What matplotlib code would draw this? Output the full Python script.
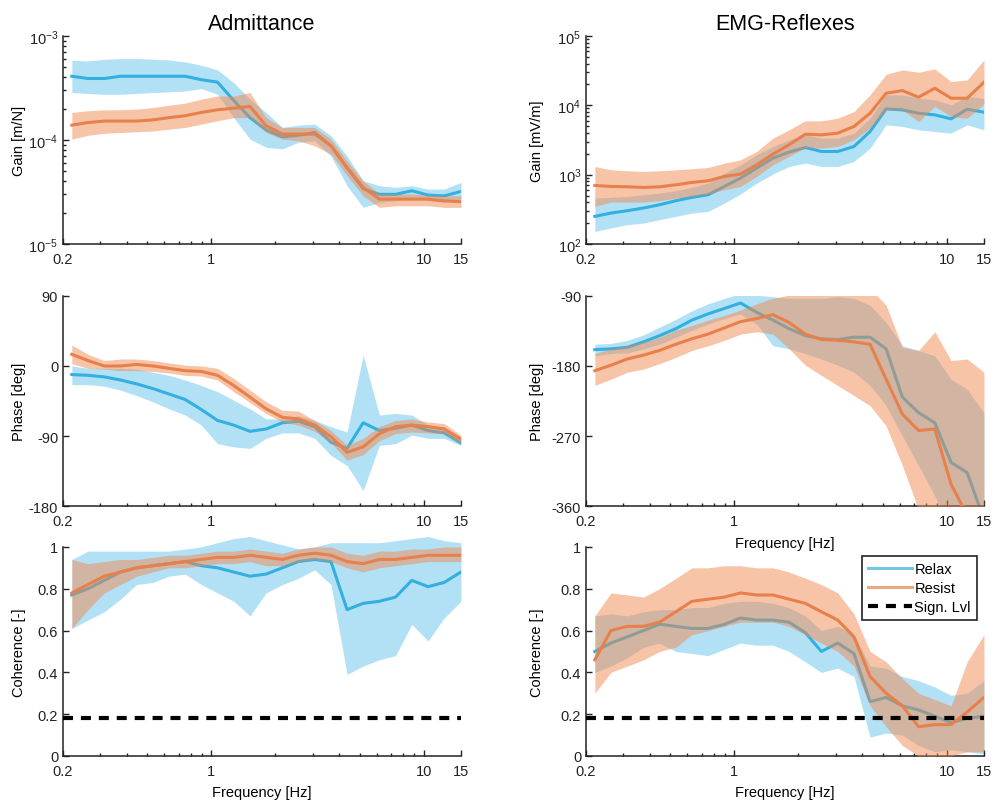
import matplotlib
matplotlib.use("Agg")
import matplotlib.pyplot as plt
from matplotlib.lines import Line2D
from matplotlib.ticker import FixedLocator, NullFormatter

plt.rcParams['font.family'] = ['Liberation Sans', 'DejaVu Sans']
plt.rcParams['axes.unicode_minus'] = False

# frequency points [Hz]
freq = [0.22, 0.262, 0.313, 0.373, 0.444, 0.53, 0.631, 0.752, 0.897, 1.069, 1.274, 1.52, 1.81,
        2.16, 2.57, 3.07, 3.66, 4.36, 5.19, 6.19, 7.38, 8.8, 10.5, 12.5, 15.0]

# admittance gain [m/N]
adm_gain_relax = [4.1e-4, 3.9e-4, 3.9e-4, 4.1e-4, 4.1e-4, 4.1e-4, 4.1e-4, 4.1e-4, 3.8e-4, 3.6e-4, 2.4e-4,
                  1.64e-4, 1.25e-4, 1.07e-4, 1.11e-4, 1.18e-4, 8.8e-5, 5.4e-5, 3.4e-5, 3.0e-5, 3.0e-5,
                  3.25e-5, 2.95e-5, 2.9e-5, 3.2e-5]
adm_gain_relax_lo = [2.86e-4, 2.8e-4, 2.75e-4, 2.75e-4, 2.8e-4, 2.86e-4, 2.9e-4, 2.96e-4, 3.12e-4, 2.75e-4,
                     1.64e-4, 1.02e-4, 8.5e-5, 8.2e-5, 9.5e-5, 9.8e-5, 7.0e-5, 3.63e-5, 2.25e-5, 2.51e-5,
                     2.61e-5, 2.81e-5, 2.61e-5, 2.51e-5, 2.7e-5]
adm_gain_relax_hi = [5.84e-4, 5.75e-4, 5.97e-4, 6.06e-4, 6.06e-4, 5.97e-4, 5.88e-4, 5.63e-4, 5.23e-4, 4.72e-4,
                     3.56e-4, 2.47e-4, 1.84e-4, 1.32e-4, 1.39e-4, 1.42e-4, 1.1e-4, 7.0e-5, 4.06e-5, 3.63e-5,
                     3.5e-5, 3.63e-5, 3.37e-5, 3.37e-5, 3.91e-5]
adm_gain_resist = [1.39e-4, 1.47e-4, 1.52e-4, 1.52e-4, 1.52e-4, 1.56e-4, 1.64e-4, 1.71e-4, 1.84e-4, 1.95e-4,
                   2.02e-4, 2.1e-4, 1.37e-4, 1.14e-4, 1.14e-4, 1.14e-4, 8.8e-5, 5.4e-5, 3.5e-5, 2.7e-5,
                   2.7e-5, 2.7e-5, 2.7e-5, 2.6e-5, 2.55e-5]
adm_gain_resist_lo = [1.02e-4, 1.11e-4, 1.16e-4, 1.18e-4, 1.2e-4, 1.22e-4, 1.27e-4, 1.32e-4, 1.42e-4, 1.53e-4,
                      1.64e-4, 1.64e-4, 1.18e-4, 1.02e-4, 9.8e-5, 8.8e-5, 7.3e-5, 4.53e-5, 2.91e-5, 2.25e-5,
                      2.33e-5, 2.33e-5, 2.33e-5, 2.25e-5, 2.25e-5]
adm_gain_resist_hi = [1.84e-4, 1.91e-4, 1.95e-4, 1.95e-4, 1.98e-4, 2.05e-4, 2.16e-4, 2.26e-4, 2.47e-4, 2.65e-4,
                      2.65e-4, 2.86e-4, 1.64e-4, 1.32e-4, 1.32e-4, 1.32e-4, 1.02e-4, 6.3e-5, 4.06e-5, 3.02e-5,
                      3.02e-5, 3.02e-5, 2.95e-5, 2.91e-5, 2.91e-5]

# EMG reflex gain [mV/m]
emg_gain_relax = [250, 279, 302, 330, 368, 421, 470, 513, 676, 891, 1242, 1730, 2113, 2466, 2158, 2158,
                  2547, 4190, 8890, 8590, 7690, 7280, 6380, 8790, 7960]
emg_gain_relax_lo = [152, 170, 190, 200, 224, 250, 279, 295, 389, 525, 755, 1018, 1312, 1466, 1312, 1312,
                     1549, 2411, 5230, 4950, 4430, 4190, 3965, 5230, 4430]
emg_gain_relax_hi = [459, 470, 485, 513, 542, 586, 654, 755, 1052, 1387, 1932, 2547, 3180, 3750, 3360, 3360,
                     3965, 6520, 14140, 14140, 12660, 11980, 10150, 13380, 12660]
emg_gain_resist = [699, 676, 668, 654, 668, 714, 772, 816, 942, 1018, 1387, 1976, 2693, 3835, 3750, 3965,
                   4950, 7690, 14940, 16320, 13090, 17630, 12660, 12660, 21500]
emg_gain_resist_lo = [348, 402, 402, 402, 421, 459, 485, 525, 605, 676, 942, 1387, 1828, 2466, 2411, 2547,
                      3180, 4680, 8590, 8590, 5840, 9600, 6890, 6520, 10370]
emg_gain_resist_hi = [1312, 1175, 1137, 1112, 1137, 1175, 1215, 1270, 1466, 1637, 2158, 3360, 4430, 5970,
                      5970, 6520, 8130, 14140, 28050, 32400, 30000, 33500, 22000, 23250, 45100]

# admittance phase [deg]
adm_phase_relax = [-11, -12, -14, -18, -23, -29, -36, -43, -56, -70, -76, -84, -81, -73, -71, -78, -98, -106,
                   -73, -83, -80, -76, -83, -86, -99]
adm_phase_relax_lo = [-24, -24, -26, -31, -38, -46, -55, -63, -76, -100, -104, -106, -93, -86, -86, -93, -115,
                      -128, -160, -102, -100, -89, -93, -93, -102]
adm_phase_relax_hi = [0, -3, -3, -3, -4, -8, -12, -18, -25, -33, -44, -55, -68, -68, -64, -70, -78, -85, 14,
                      -63, -61, -63, -76, -78, -93]
adm_phase_resist = [15, 7, 0, 0, 2, 0, -3, -6, -7, -12, -25, -40, -55, -66, -68, -76, -91, -111, -104, -87,
                    -78, -76, -78, -81, -94]
adm_phase_resist_lo = [3, -3, -4, -6, -6, -7, -9, -12, -13, -18, -33, -47, -61, -72, -76, -84, -99, -121, -114,
                       -96, -87, -85, -86, -87, -100]
adm_phase_resist_hi = [27, 15, 7, 9, 9, 7, 4, 1, 0, -3, -16, -31, -46, -57, -58, -70, -83, -102, -93, -78,
                       -70, -68, -72, -74, -89]

# EMG reflex phase [deg]
emg_phase_relax = [-159, -158, -156, -149, -141, -132, -121, -113, -106, -99, -111, -121, -132, -141, -145,
                   -146, -143, -143, -158, -220, -240, -253, -304, -317, -377]
emg_phase_relax_lo = [-167, -164, -163, -158, -152, -143, -134, -126, -119, -113, -126, -154, -158, -164, -171,
                      -179, -188, -205, -231, -270, -308, -347, -390, -412, -412]
emg_phase_relax_hi = [-152, -151, -147, -140, -130, -120, -109, -100, -93, -87, -89, -91, -93, -93, -93, -91,
                      -93, -102, -124, -154, -160, -167, -197, -210, -240]
emg_phase_resist = [-186, -179, -171, -166, -160, -152, -145, -139, -131, -123, -119, -114, -124, -139, -146,
                    -147, -149, -152, -197, -242, -263, -261, -332, -372, -395]
emg_phase_resist_lo = [-205, -197, -188, -184, -177, -169, -160, -154, -147, -139, -136, -139, -158, -179, -192,
                       -205, -218, -231, -257, -308, -365, -390, -412, -412, -412]
emg_phase_resist_hi = [-164, -158, -154, -149, -143, -134, -128, -121, -115, -108, -100, -93, -89, -85, -83,
                       -85, -76, -80, -102, -156, -160, -136, -173, -171, -188]

# admittance coherence [-]
adm_coh_relax = [0.77, 0.80, 0.84, 0.88, 0.90, 0.91, 0.92, 0.93, 0.91, 0.90, 0.88, 0.86, 0.87, 0.90, 0.93,
                 0.94, 0.93, 0.70, 0.73, 0.74, 0.76, 0.84, 0.81, 0.83, 0.88]
adm_coh_relax_lo = [0.61, 0.65, 0.69, 0.75, 0.82, 0.83, 0.86, 0.87, 0.82, 0.78, 0.74, 0.67, 0.78, 0.82, 0.85,
                    0.89, 0.82, 0.39, 0.43, 0.46, 0.48, 0.63, 0.55, 0.66, 0.74]
adm_coh_relax_hi = [0.94, 0.98, 0.98, 0.98, 0.98, 0.98, 0.98, 0.99, 1.0, 1.02, 1.04, 1.05, 1.03, 1.01, 0.99,
                    1.0, 1.02, 1.02, 1.02, 1.02, 1.03, 1.04, 1.05, 1.03, 1.02]
adm_coh_resist = [0.78, 0.82, 0.86, 0.88, 0.90, 0.91, 0.92, 0.93, 0.94, 0.95, 0.95, 0.96, 0.95, 0.94, 0.96,
                  0.97, 0.96, 0.93, 0.92, 0.94, 0.94, 0.95, 0.96, 0.96, 0.96]
adm_coh_resist_lo = [0.61, 0.70, 0.78, 0.82, 0.86, 0.88, 0.90, 0.90, 0.91, 0.92, 0.92, 0.93, 0.91, 0.91, 0.93,
                     0.94, 0.93, 0.90, 0.88, 0.90, 0.91, 0.92, 0.93, 0.93, 0.93]
adm_coh_resist_hi = [0.94, 0.92, 0.93, 0.94, 0.94, 0.95, 0.96, 0.96, 0.97, 0.98, 0.98, 0.99, 0.98, 0.97, 0.99,
                     1.0, 1.0, 0.97, 0.96, 0.98, 0.98, 0.99, 0.99, 1.0, 1.0]

# EMG reflex coherence [-]
emg_coh_relax = [0.50, 0.54, 0.57, 0.60, 0.63, 0.62, 0.61, 0.61, 0.63, 0.66, 0.65, 0.65, 0.64, 0.59, 0.50,
                 0.54, 0.49, 0.26, 0.28, 0.24, 0.22, 0.19, 0.16, 0.18, 0.19]
emg_coh_relax_lo = [0.40, 0.43, 0.47, 0.52, 0.54, 0.50, 0.49, 0.48, 0.51, 0.54, 0.53, 0.53, 0.50, 0.45, 0.40,
                    0.42, 0.38, 0.09, 0.11, 0.10, 0.05, 0.02, 0.03, 0.02, 0.01]
emg_coh_relax_hi = [0.67, 0.68, 0.67, 0.69, 0.70, 0.70, 0.71, 0.71, 0.73, 0.74, 0.74, 0.73, 0.71, 0.67, 0.60,
                    0.62, 0.58, 0.43, 0.42, 0.38, 0.36, 0.33, 0.29, 0.30, 0.36]
emg_coh_resist = [0.46, 0.60, 0.62, 0.62, 0.64, 0.69, 0.74, 0.75, 0.76, 0.78, 0.77, 0.77, 0.75, 0.73, 0.69,
                  0.65, 0.57, 0.38, 0.30, 0.24, 0.14, 0.15, 0.15, 0.21, 0.28]
emg_coh_resist_lo = [0.30, 0.40, 0.43, 0.46, 0.50, 0.52, 0.58, 0.60, 0.62, 0.64, 0.64, 0.64, 0.62, 0.58, 0.54,
                     0.50, 0.43, 0.24, 0.14, 0.05, 0.0, 0.0, 0.0, 0.02, 0.02]
emg_coh_resist_hi = [0.67, 0.78, 0.77, 0.76, 0.80, 0.85, 0.90, 0.90, 0.91, 0.91, 0.90, 0.90, 0.88, 0.85, 0.82,
                     0.78, 0.68, 0.50, 0.45, 0.37, 0.30, 0.27, 0.24, 0.45, 0.58]

sign_level = 0.18

xticks = [0.2, 1, 10, 15]
xtick_labels = ['0.2', '1', '10', '15']
xminor = [0.3, 0.4, 0.5, 0.6, 0.7, 0.8, 0.9, 2, 3, 4, 5, 6, 7, 8, 9]

BLUE = '#33afe0'
ORANGE = '#e8804c'
BLUE_FILL = '#55bdec'
ORANGE_FILL = '#f08a50'
FS = 10.5

fig = plt.figure(figsize=(9.96, 8.04), dpi=100)

left_x, right_x, width = 0.0633, 0.5884, 0.3995
rows = [(0.6953, 0.2587), (0.3694, 0.2612), (0.0585, 0.2600)]


def make_axes(x0, row):
    y0, h = rows[row]
    ax = fig.add_axes([x0, y0, width, h])
    # transparent background so labels of the panel above stay visible
    ax.patch.set_visible(False)
    ax.set_xscale('log')
    ax.set_xlim(0.2, 15)
    ax.set_xticks(xticks)
    ax.set_xticklabels(xtick_labels)
    ax.xaxis.set_minor_locator(FixedLocator(xminor))
    ax.xaxis.set_minor_formatter(NullFormatter())
    for side in ('top', 'right'):
        ax.spines[side].set_visible(False)
    for side in ('left', 'bottom'):
        ax.spines[side].set_color('#222222')
        ax.spines[side].set_linewidth(1.1)
    ax.tick_params(which='both', direction='in', colors='#222222', labelsize=FS, width=1.0)
    ax.tick_params(which='major', length=4)
    ax.tick_params(which='minor', length=2.5)
    ax.tick_params(axis='x', which='major', pad=5.5)
    return ax


def draw_pair(ax, relax, relax_lo, relax_hi, resist, resist_lo, resist_hi, clip=True):
    ax.fill_between(freq, relax_lo, relax_hi, color=BLUE_FILL, alpha=0.45, lw=0, clip_on=clip, zorder=1)
    ax.plot(freq, relax, color=BLUE, lw=2.2, zorder=2)
    ax.fill_between(freq, resist_lo, resist_hi, color=ORANGE_FILL, alpha=0.5, lw=0, clip_on=clip, zorder=3)
    ax.plot(freq, resist, color=ORANGE, lw=2.2, zorder=4)


def set_ylabel(ax, text, xpos):
    ax.set_ylabel(text, fontsize=FS)
    ax.yaxis.set_label_coords(xpos, 0.5)


# Gain
ax = make_axes(left_x, 0)
draw_pair(ax, adm_gain_relax, adm_gain_relax_lo, adm_gain_relax_hi,
          adm_gain_resist, adm_gain_resist_lo, adm_gain_resist_hi)
ax.set_yscale('log')
ax.set_ylim(1e-5, 1e-3)
ax.set_yticks([1e-5, 1e-4, 1e-3])
ax.tick_params(axis='y', which='minor', direction='in', length=2.5)
set_ylabel(ax, 'Gain [m/N]', -0.094)
ax.set_title('Admittance', fontsize=15.5, pad=5)

ax = make_axes(right_x, 0)
draw_pair(ax, emg_gain_relax, emg_gain_relax_lo, emg_gain_relax_hi,
          emg_gain_resist, emg_gain_resist_lo, emg_gain_resist_hi)
ax.set_yscale('log')
ax.set_ylim(1e2, 1e5)
ax.set_yticks([1e2, 1e3, 1e4, 1e5])
ax.tick_params(axis='y', which='minor', direction='in', length=2.5)
set_ylabel(ax, 'Gain [mV/m]', -0.105)
ax.set_title('EMG-Reflexes', fontsize=15.5, pad=5)

# Phase
ax = make_axes(left_x, 1)
draw_pair(ax, adm_phase_relax, adm_phase_relax_lo, adm_phase_relax_hi,
          adm_phase_resist, adm_phase_resist_lo, adm_phase_resist_hi)
ax.set_ylim(-180, 90)
ax.set_yticks([-180, -90, 0, 90])
set_ylabel(ax, 'Phase [deg]', -0.094)

ax = make_axes(right_x, 1)
draw_pair(ax, emg_phase_relax, emg_phase_relax_lo, emg_phase_relax_hi,
          emg_phase_resist, emg_phase_resist_lo, emg_phase_resist_hi)
ax.set_ylim(-360, -90)
ax.set_yticks([-360, -270, -180, -90])
set_ylabel(ax, 'Phase [deg]', -0.105)
ax.set_xlabel('Frequency [Hz]', fontsize=FS, labelpad=6)
ax.set_zorder(2)

# Coherence
ax = make_axes(left_x, 2)
draw_pair(ax, adm_coh_relax, adm_coh_relax_lo, adm_coh_relax_hi,
          adm_coh_resist, adm_coh_resist_lo, adm_coh_resist_hi, clip=False)
ax.axhline(sign_level, color='black', lw=3, dashes=(2.4, 1.9), zorder=5)
ax.set_ylim(0, 1)
ax.set_yticks([0, 0.2, 0.4, 0.6, 0.8, 1])
ax.set_yticklabels(['0', '0.2', '0.4', '0.6', '0.8', '1'])
set_ylabel(ax, 'Coherence [-]', -0.094)
ax.set_xlabel('Frequency [Hz]', fontsize=FS, labelpad=5)

ax = make_axes(right_x, 2)
draw_pair(ax, emg_coh_relax, emg_coh_relax_lo, emg_coh_relax_hi,
          emg_coh_resist, emg_coh_resist_lo, emg_coh_resist_hi, clip=False)
ax.axhline(sign_level, color='black', lw=3, dashes=(2.4, 1.9), zorder=5)
ax.set_ylim(0, 1)
ax.set_yticks([0, 0.2, 0.4, 0.6, 0.8, 1])
ax.set_yticklabels(['0', '0.2', '0.4', '0.6', '0.8', '1'])
set_ylabel(ax, 'Coherence [-]', -0.105)
ax.set_xlabel('Frequency [Hz]', fontsize=FS, labelpad=5)

handles = [Line2D([], [], color=BLUE, lw=2.2, alpha=0.7),
           Line2D([], [], color=ORANGE, lw=2.2, alpha=0.7),
           Line2D([], [], color='black', lw=3, dashes=(2.4, 1.9))]
leg = ax.legend(handles, ['Relax', 'Resist', 'Sign. Lvl'], loc='upper right',
                bbox_to_anchor=(0.982, 0.957), borderaxespad=0, fontsize=FS,
                handlelength=3.0, handletextpad=0.2, labelspacing=0.35,
                fancybox=False, framealpha=1, edgecolor='#222222', borderpad=0.4)
leg.get_frame().set_linewidth(1.2)
leg.set_zorder(10)

fig.savefig('out.png', dpi=100)
